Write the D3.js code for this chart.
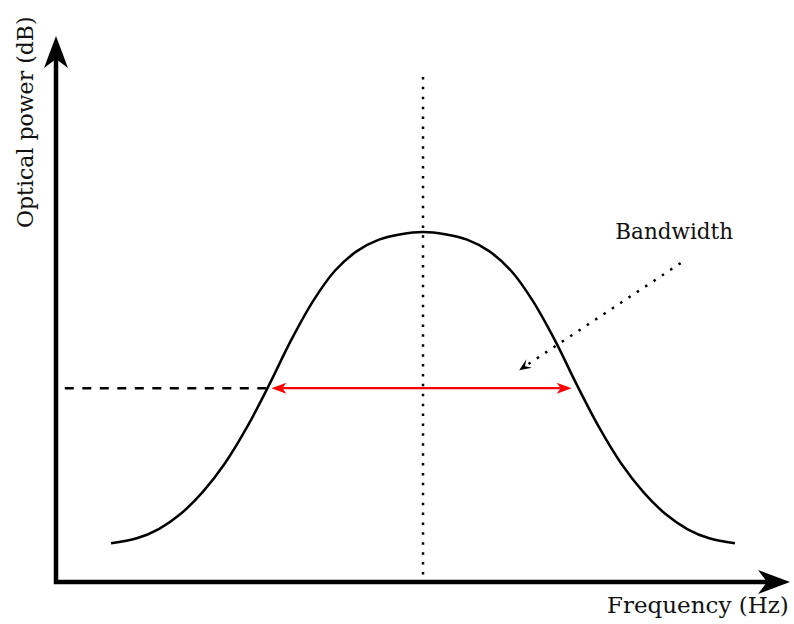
<!DOCTYPE html>
<html>
<head>
<meta charset="utf-8">
<script src="https://cdn.jsdelivr.net/npm/d3@7"></script>
<style>
  html, body { margin: 0; padding: 0; background: #fff; }
  text { font-family: "DejaVu Serif", "Liberation Serif", serif; fill: #111; }
</style>
</head>
<body>
<div id="chart"></div>
<script>
// ---------------------------------------
// data (arbitrary units 0..10 on both axes)
// ---------------------------------------
const freq = [0.75, 1.1, 1.4, 1.7, 2.0, 2.3, 2.6, 2.9, 3.2, 3.5, 3.8, 4.1, 4.4, 4.7, 5.0,
              5.3, 5.6, 5.9, 6.2, 6.5, 6.8, 7.1, 7.4, 7.7, 8.0, 8.3, 8.6, 8.9, 9.25];
const power = [0.71, 0.80, 0.97, 1.25, 1.65, 2.17, 2.83, 3.60, 4.42, 5.14, 5.70, 6.06, 6.27, 6.37, 6.41,
               6.37, 6.27, 6.06, 5.70, 5.14, 4.42, 3.60, 2.83, 2.17, 1.65, 1.25, 0.97, 0.80, 0.71];

const centerFreq = 5.0;
const centerTop = 9.25;          // top of the dotted centre line
const halfPower = 3.55;          // level of the dashed line / bandwidth arrow
const dashStart = 0.12;          // dashed line starts just right of the y axis
const bandEdges = [2.88, 7.08];  // where the half-power level meets the curve
const pointerFrom = [8.51, 5.84];
const pointerTo = [6.31, 3.88];

const xTitle = "Frequency (Hz)";
const yTitle = "Optical power (dB)";
const bandLabel = "Bandwidth";

// ---------------------------------------
// svg + scales
// ---------------------------------------
const width = 794, height = 624;

const svg = d3.select("#chart").append("svg")
  .attr("width", width)
  .attr("height", height);

const x = d3.scaleLinear().domain([0, 10]).range([56, 790]);
const y = d3.scaleLinear().domain([0, 10]).range([582, 36]);

// barbed arrow head, tip at (tx,ty) pointing along angle (radians)
function arrowPath(tx, ty, angle, len, halfW, notch) {
  const pts = [[0, 0], [-len, -halfW], [-len + notch, 0], [-len, halfW]];
  const c = Math.cos(angle), s = Math.sin(angle);
  const p = pts.map(([px, py]) => [tx + px * c - py * s, ty + px * s + py * c]);
  return `M${p[0]}L${p[1]}L${p[2]}L${p[3]}Z`;
}

// ---------------------------------------
// axes with arrows
// ---------------------------------------
const x0 = x(0), y0 = y(0);
const axisLen = 32, axisHalf = 12, axisNotch = 9;

svg.append("path")
  .attr("d", `M${x0},${y(10) + axisLen - axisNotch} L${x0},${y0} L${x(10) - axisLen + axisNotch},${y0}`)
  .attr("fill", "none")
  .attr("stroke", "#000")
  .attr("stroke-width", 4.5)
  .attr("stroke-linejoin", "miter");

svg.append("path")
  .attr("d", arrowPath(x0, y(10), -Math.PI / 2, axisLen, axisHalf, axisNotch))
  .attr("fill", "#000");

svg.append("path")
  .attr("d", arrowPath(x(10), y0, 0, axisLen, axisHalf, axisNotch))
  .attr("fill", "#000");

// ---------------------------------------
// guide lines
// ---------------------------------------
svg.append("line")
  .attr("x1", x(centerFreq)).attr("x2", x(centerFreq))
  .attr("y1", y(centerTop)).attr("y2", y(0) - 4)
  .attr("stroke", "#000")
  .attr("stroke-width", 2.5)
  .attr("stroke-dasharray", "2.5,7.4");

svg.append("line")
  .attr("x1", x(dashStart)).attr("x2", x(bandEdges[0]))
  .attr("y1", y(halfPower)).attr("y2", y(halfPower))
  .attr("stroke", "#000")
  .attr("stroke-width", 2.5)
  .attr("stroke-dasharray", "9,8.5");

// ---------------------------------------
// curve
// ---------------------------------------
const curvePts = freq.map((f, i) => [f, power[i]]);

svg.append("path")
  .datum(curvePts)
  .attr("d", d3.line()
    .x(d => x(d[0]))
    .y(d => y(d[1]))
    .curve(d3.curveCatmullRom.alpha(0.5)))
  .attr("fill", "none")
  .attr("stroke", "#000")
  .attr("stroke-width", 2.5);

// ---------------------------------------
// bandwidth arrow (red, double headed)
// ---------------------------------------
const bx1 = x(bandEdges[0]) + 4, bx2 = x(bandEdges[1]) - 4, by = y(halfPower);
const redLen = 15, redHalf = 5.5, redNotch = 4;

svg.append("line")
  .attr("x1", bx1 + redLen - redNotch).attr("x2", bx2 - redLen + redNotch)
  .attr("y1", by).attr("y2", by)
  .attr("stroke", "#ff0000")
  .attr("stroke-width", 2.2);

svg.append("path").attr("d", arrowPath(bx1, by, Math.PI, redLen, redHalf, redNotch)).attr("fill", "#ff0000");
svg.append("path").attr("d", arrowPath(bx2, by, 0, redLen, redHalf, redNotch)).attr("fill", "#ff0000");

// ---------------------------------------
// dotted pointer from the label
// ---------------------------------------
const px1 = x(pointerFrom[0]), py1 = y(pointerFrom[1]);
const px2 = x(pointerTo[0]), py2 = y(pointerTo[1]);
const pAng = Math.atan2(py2 - py1, px2 - px1);

svg.append("line")
  .attr("x1", px1).attr("y1", py1)
  .attr("x2", px2 - 8 * Math.cos(pAng)).attr("y2", py2 - 8 * Math.sin(pAng))
  .attr("stroke", "#000")
  .attr("stroke-width", 2.5)
  .attr("stroke-dasharray", "2.5,7.5");

svg.append("path")
  .attr("d", arrowPath(px2, py2, pAng, 12, 5, 5))
  .attr("fill", "#000");

// ---------------------------------------
// labels
// ---------------------------------------
svg.append("text")
  .attr("x", 607).attr("y", 613)
  .style("font-size", "23px")
  .text(xTitle);

svg.append("text")
  .attr("transform", "translate(33,228) rotate(-90)")
  .style("font-size", "22px")
  .text(yTitle);

svg.append("text")
  .attr("x", x(7.62)).attr("y", 239)
  .style("font-size", "21.5px")
  .text(bandLabel);
</script>
</body>
</html>
